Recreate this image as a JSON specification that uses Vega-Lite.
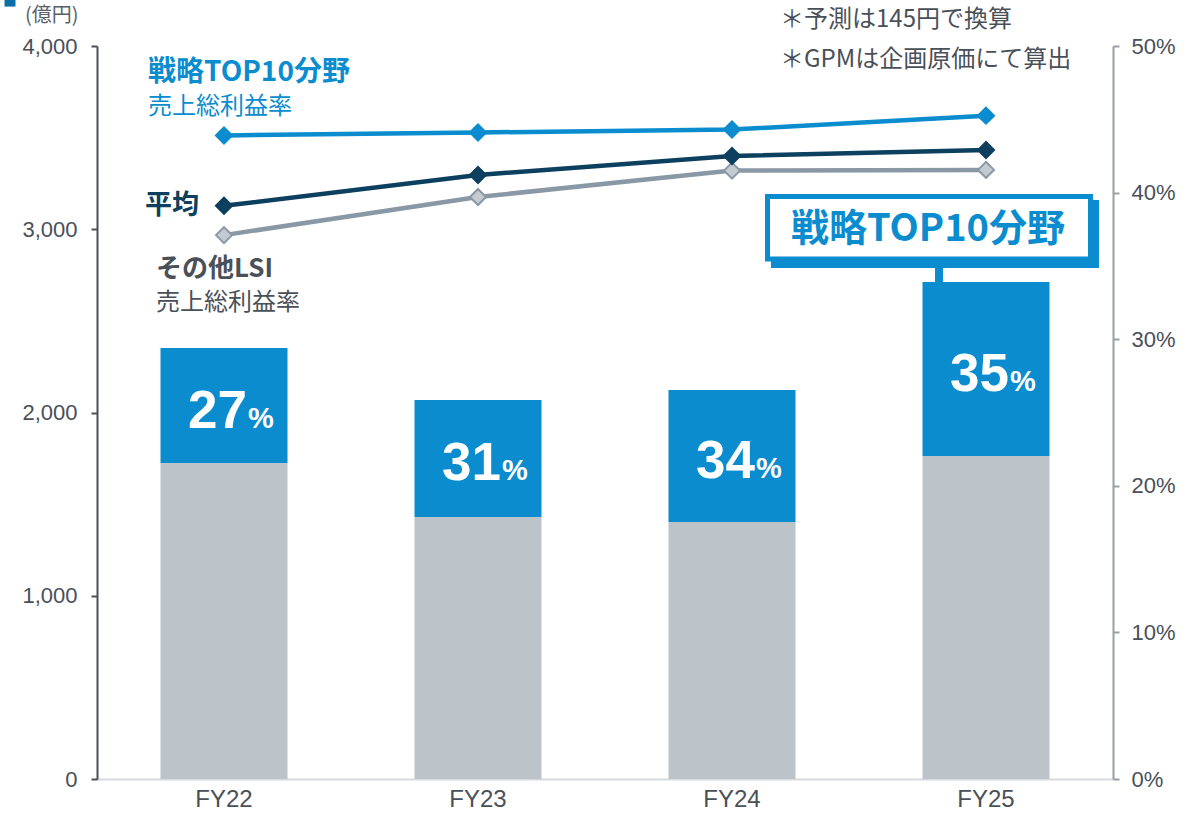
{
  "$schema": "https://vega.github.io/schema/vega-lite/v6.json",
  "width": 1016,
  "height": 733,
  "autosize": {"type": "none"},
  "padding": {"left": 97, "top": 46, "right": 81, "bottom": 37},
  "background": "white",
  "config": {
    "view": {"stroke": null},
    "font": "Liberation Sans",
    "text": {"font": "Liberation Sans"},
    "axis": {"labelFont": "Liberation Sans"}
  },
  "datasets": {
    "bars": [
      {"year": "FY22", "other": 1724, "total": 2352, "share": "27"},
      {"year": "FY23", "other": 1430, "total": 2068, "share": "31"},
      {"year": "FY24", "other": 1402, "total": 2123, "share": "34"},
      {"year": "FY25", "other": 1763, "total": 2712, "share": "35"}
    ],
    "gpm": [
      {"year": "FY22", "series": "その他LSI", "gpm": 0.371},
      {"year": "FY23", "series": "その他LSI", "gpm": 0.397},
      {"year": "FY24", "series": "その他LSI", "gpm": 0.415},
      {"year": "FY25", "series": "その他LSI", "gpm": 0.4155},
      {"year": "FY22", "series": "平均", "gpm": 0.391},
      {"year": "FY23", "series": "平均", "gpm": 0.412},
      {"year": "FY24", "series": "平均", "gpm": 0.425},
      {"year": "FY25", "series": "平均", "gpm": 0.429},
      {"year": "FY22", "series": "戦略TOP10分野", "gpm": 0.439},
      {"year": "FY23", "series": "戦略TOP10分野", "gpm": 0.441},
      {"year": "FY24", "series": "戦略TOP10分野", "gpm": 0.443},
      {"year": "FY25", "series": "戦略TOP10分野", "gpm": 0.4525}
    ],
    "one": [{}]
  },
  "encoding": {
    "x": {
      "field": "year",
      "type": "nominal",
      "sort": ["FY22", "FY23", "FY24", "FY25"],
      "scale": {"domain": ["FY22", "FY23", "FY24", "FY25"], "paddingInner": 0.5, "paddingOuter": 0.25},
      "axis": {
        "title": null,
        "labelAngle": 0,
        "labelFontSize": 24,
        "labelColor": "#4a5058",
        "labelPadding": 8,
        "ticks": false,
        "domainColor": "#d5dadf",
        "domainWidth": 2,
        "grid": false
      }
    }
  },
  "layer": [
    {
      "data": {"name": "bars"},
      "layer": [
        {
          "mark": {"type": "bar", "color": "#bcc4ca"},
          "encoding": {
            "y": {
              "field": "other",
              "type": "quantitative",
              "title": null,
              "scale": {"domain": [0, 4000], "nice": false, "zero": true},
              "axis": {
                "orient": "left",
                "values": [0, 1000, 2000, 3000, 4000],
                "format": ",.0f",
                "formatType": "number",
                "labelFontSize": 22,
                "labelColor": "#4a5058",
                "labelPadding": 14,
                "tickSize": 6,
                "tickColor": "#4a5058",
                "tickWidth": 2,
                "domainColor": "#4a5058",
                "domainWidth": 2,
                "grid": false,
                "title": null
              }
            }
          }
        },
        {
          "mark": {"type": "bar", "color": "#0a8ccf"},
          "encoding": {
            "y": {"field": "total", "type": "quantitative", "title": null},
            "y2": {"field": "other"}
          }
        },
        {
          "transform": [{"calculate": "(datum.other + datum.total) / 2", "as": "mid"}],
          "mark": {"type": "text", "align": "right", "baseline": "alphabetic", "dx": 23, "dy": 22, "fontSize": 53, "fontWeight": "bold", "color": "white", "font": "Liberation Sans"},
          "encoding": {
            "y": {"field": "mid", "type": "quantitative", "title": null},
            "text": {"field": "share"}
          }
        },
        {
          "transform": [{"calculate": "(datum.other + datum.total) / 2", "as": "mid"}],
          "mark": {"type": "text", "align": "left", "baseline": "alphabetic", "dx": 24, "dy": 22, "fontSize": 29, "fontWeight": "bold", "color": "white", "font": "Liberation Sans"},
          "encoding": {
            "y": {"field": "mid", "type": "quantitative", "title": null},
            "text": {"value": "%"}
          }
        },
        {
          "data": {"name": "one"},
          "mark": {"type": "rect", "color": "#0a8ccf", "xOffset": -215, "x2Offset": 113},
          "encoding": {
            "x": {"datum": "FY25", "bandPosition": 0.5},
            "x2": {"datum": "FY25", "bandPosition": 0.5},
            "y": {"datum": 3160, "type": "quantitative", "title": null},
            "y2": {"datum": 2789}
          }
        },
        {
          "data": {"name": "one"},
          "mark": {"type": "rect", "fill": "white", "stroke": "#0a8ccf", "strokeWidth": 5, "xOffset": -218.5, "x2Offset": 104.5},
          "encoding": {
            "x": {"datum": "FY25", "bandPosition": 0.5},
            "x2": {"datum": "FY25", "bandPosition": 0.5},
            "y": {"datum": 3179, "type": "quantitative", "title": null},
            "y2": {"datum": 2838}
          }
        },
        {
          "data": {"name": "one"},
          "mark": {"type": "rule", "color": "#0a8ccf", "strokeWidth": 8, "xOffset": -47},
          "encoding": {
            "x": {"datum": "FY25", "bandPosition": 0.5},
            "y": {"datum": 2795, "type": "quantitative", "title": null},
            "y2": {"datum": 2712}
          }
        },
        {
          "data": {"name": "one"},
          "mark": {"type": "text", "align": "center", "baseline": "middle", "dx": -58, "fontSize": 38, "fontWeight": "bold", "color": "#0a8ccf", "font": "Noto Sans CJK JP"},
          "encoding": {
            "x": {"datum": "FY25", "bandPosition": 0.5},
            "y": {"datum": 2996, "type": "quantitative", "title": null},
            "text": {"value": "戦略TOP10分野"}
          }
        },
        {
          "data": {"name": "one"},
          "mark": {"type": "text", "align": "left", "baseline": "middle", "dx": -12.5, "fontSize": 28, "fontWeight": "bold", "color": "#0a8ccf", "font": "Noto Sans CJK JP"},
          "encoding": {
            "x": {"datum": "FY22", "bandPosition": 0},
            "y": {"datum": 3852, "type": "quantitative", "title": null},
            "text": {"value": "戦略TOP10分野"}
          }
        },
        {
          "data": {"name": "one"},
          "mark": {"type": "text", "align": "left", "baseline": "middle", "dx": -12.5, "fontSize": 24, "color": "#0a8ccf", "font": "Noto Sans CJK JP"},
          "encoding": {
            "x": {"datum": "FY22", "bandPosition": 0},
            "y": {"datum": 3665, "type": "quantitative", "title": null},
            "text": {"value": "売上総利益率"}
          }
        },
        {
          "data": {"name": "one"},
          "mark": {"type": "text", "align": "left", "baseline": "middle", "dx": -15.5, "fontSize": 27, "fontWeight": "bold", "color": "#0d3f5e", "font": "Noto Sans CJK JP"},
          "encoding": {
            "x": {"datum": "FY22", "bandPosition": 0},
            "y": {"datum": 3127, "type": "quantitative", "title": null},
            "text": {"value": "平均"}
          }
        },
        {
          "data": {"name": "one"},
          "mark": {"type": "text", "align": "left", "baseline": "middle", "dx": -4.5, "fontSize": 26, "fontWeight": "bold", "color": "#4a5058", "font": "Noto Sans CJK JP"},
          "encoding": {
            "x": {"datum": "FY22", "bandPosition": 0},
            "y": {"datum": 2785, "type": "quantitative", "title": null},
            "text": {"value": "その他LSI"}
          }
        },
        {
          "data": {"name": "one"},
          "mark": {"type": "text", "align": "left", "baseline": "middle", "dx": -4.5, "fontSize": 24, "color": "#4a5058", "font": "Noto Sans CJK JP"},
          "encoding": {
            "x": {"datum": "FY22", "bandPosition": 0},
            "y": {"datum": 2597, "type": "quantitative", "title": null},
            "text": {"value": "売上総利益率"}
          }
        },
        {
          "data": {"name": "one"},
          "mark": {"type": "text", "align": "left", "baseline": "middle", "dx": -135.5, "fontSize": 20, "color": "#5a6068", "font": "Noto Sans CJK JP"},
          "encoding": {
            "x": {"datum": "FY22", "bandPosition": 0},
            "y": {"datum": 4164, "type": "quantitative", "title": null},
            "text": {"value": "(億円)"}
          }
        },
        {
          "data": {"name": "one"},
          "mark": {"type": "point", "shape": "square", "filled": true, "size": 120, "color": "#0a6fa8", "opacity": 1, "xOffset": -150.5},
          "encoding": {
            "x": {"datum": "FY22", "bandPosition": 0},
            "y": {"datum": 4245, "type": "quantitative", "title": null}
          }
        },
        {
          "data": {"name": "one"},
          "mark": {"type": "text", "align": "left", "baseline": "middle", "dx": -142.5, "fontSize": 24, "color": "#4a5058", "font": "Noto Sans CJK JP"},
          "encoding": {
            "x": {"datum": "FY25", "bandPosition": 0},
            "y": {"datum": 4142, "type": "quantitative", "title": null},
            "text": {"value": "＊予測は145円で換算"}
          }
        },
        {
          "data": {"name": "one"},
          "mark": {"type": "text", "align": "left", "baseline": "middle", "dx": -142.5, "fontSize": 24, "color": "#4a5058", "font": "Noto Sans CJK JP"},
          "encoding": {
            "x": {"datum": "FY25", "bandPosition": 0},
            "y": {"datum": 3924, "type": "quantitative", "title": null},
            "text": {"value": "＊GPMは企画原価にて算出"}
          }
        }
      ]
    },
    {
      "data": {"name": "gpm"},
      "layer": [
        {
          "mark": {"type": "line", "strokeWidth": 4.5},
          "encoding": {
            "y": {
              "field": "gpm",
              "type": "quantitative",
              "title": null,
              "scale": {"domain": [0, 0.5], "nice": false},
              "axis": {
                "orient": "right",
                "values": [0, 0.1, 0.2, 0.3, 0.4, 0.5],
                "format": ".0%",
                "labelFontSize": 22,
                "labelColor": "#4a5058",
                "labelPadding": 12,
                "tickSize": 6,
                "tickColor": "#9a9fa5",
                "tickWidth": 2,
                "domainColor": "#9a9fa5",
                "domainWidth": 2,
                "grid": false,
                "title": null
              }
            },
            "color": {
              "field": "series",
              "type": "nominal",
              "scale": {"domain": ["その他LSI", "平均", "戦略TOP10分野"], "range": ["#8a97a5", "#0d3f5e", "#0a8ccf"]},
              "legend": null
            },
            "order": {"field": "year"}
          }
        },
        {
          "mark": {"type": "point", "shape": "diamond", "size": 260, "filled": true, "opacity": 1, "strokeWidth": 2},
          "encoding": {
            "y": {"field": "gpm", "type": "quantitative", "title": null},
            "fill": {
              "field": "series",
              "type": "nominal",
              "scale": {"domain": ["その他LSI", "平均", "戦略TOP10分野"], "range": ["#c3cad0", "#0d3f5e", "#0a8ccf"]},
              "legend": null
            },
            "stroke": {
              "field": "series",
              "type": "nominal",
              "scale": {"domain": ["その他LSI", "平均", "戦略TOP10分野"], "range": ["#8a97a5", "#0d3f5e", "#0a8ccf"]},
              "legend": null
            }
          }
        }
      ]
    }
  ],
  "resolve": {"scale": {"y": "independent"}}
}
